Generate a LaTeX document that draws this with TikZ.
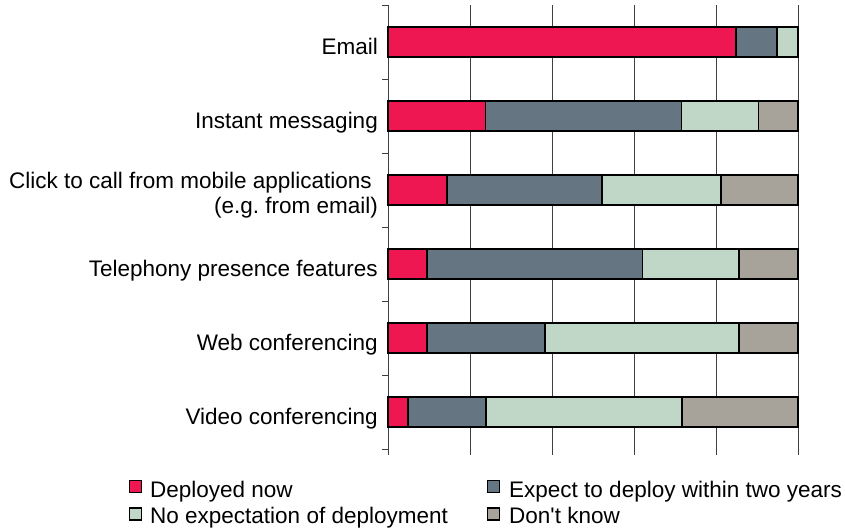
\documentclass[tikz,border=0pt]{standalone}
\usepackage{fontspec}
\setmainfont{Liberation Sans}
\usetikzlibrary{positioning}

\definecolor{deployed}{HTML}{EE1751}
\definecolor{expect}{HTML}{657682}
\definecolor{noexp}{HTML}{C0D7C8}
\definecolor{dontknow}{HTML}{A7A39B}
\definecolor{gridgray}{HTML}{404040}

\begin{document}
\begin{tikzpicture}[x=1pt, y=-1pt]
	\tikzset{bar/.style={draw=black, line width=1.3pt}, gridline/.style={draw=gridgray, line width=1pt},
		label/.style={anchor=base east, inner sep=0pt, align=right, font=\fontsize{22.5}{25}\selectfont\frenchspacing},
		key/.style={draw=black, line width=1.2pt, minimum size=12pt, inner sep=0pt},
		keytext/.style={anchor=base west, inner sep=0pt, font=\fontsize{22.5}{26}\selectfont} }
	\useasboundingbox (0,0) rectangle (845,528);
	
	% grid and axis
	\foreach \k in {0,...,5}
		\draw[gridline] (388+82*\k,5) -- (388+82*\k,455);
	\foreach \k in {0,...,6}
		\draw[gridline] (382,5+74*\k) -- (388,5+74*\k);
	
	% bars: cumulative ends of deployed / expect / no expectation
	\foreach \a/\b/\c [count=\i] in {84.9/94.9/100, 23.7/71.5/90.3, 14.4/52.2/81.2, 9.5/62.0/85.6, 9.5/38.3/85.6, 4.9/23.9/71.7} {
		\pgfmathsetmacro\yc{42+74*(\i-1)}
		\draw[bar, fill=deployed] (388,\yc-15) rectangle (388+4.1*\a,\yc+15);
		\draw[bar, fill=expect] (388+4.1*\a,\yc-15) rectangle (388+4.1*\b,\yc+15);
		\draw[bar, fill=noexp] (388+4.1*\b,\yc-15) rectangle (388+4.1*\c,\yc+15);
		\draw[bar, fill=dontknow] (388+4.1*\c,\yc-15) rectangle (798,\yc+15);
	}
	
	% category labels
	\node[label] (email) at (378,54) {Email};
	\node[label] (im) at (378,128) {Instant messaging};
	\node[label] (click) at (378,213) {Click to call from mobile applications\kern6pt\\(e.g. from email)};
	\node[label] (tel) at (378,276) {Telephony presence features};
	\node[label] (web) at (378,350) {Web conferencing};
	\node[label] (video) at (378,424) {Video conferencing};
	
	% legend
	\node[key, fill=deployed] (kdep) at (135.5,486.5) {};
	\node[key, fill=expect] (kexp) at (493.5,486.5) {};
	\node[key, fill=noexp] (knoexp) at (135.5,514) {};
	\node[key, fill=dontknow] (kdk) at (493.5,514) {};
	\node[keytext] (tdep) at (150,497) {Deployed now};
	\node[keytext] (texp) at (509,497) {Expect to deploy within two years};
	\node[keytext] (tnoexp) at (150,523) {No expectation of deployment};
	\node[keytext] (tdk) at (509,523) {Don\textquotesingle t know};
\end{tikzpicture}
\end{document}
